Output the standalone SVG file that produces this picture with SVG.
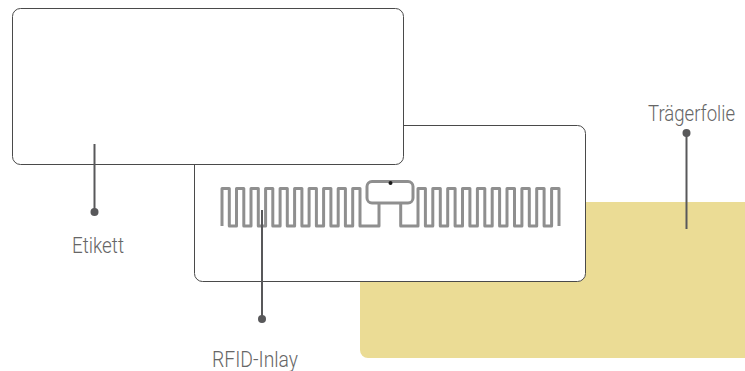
<svg xmlns="http://www.w3.org/2000/svg" width="745" height="371" viewBox="0 0 745 371">
<style>
.card{fill:#fff;stroke:#4a4a4a;stroke-width:1}
.lead{stroke:#58585a;stroke-width:2;fill:none}
.dot{fill:#58585a}
.ant{fill:none;stroke:#8f8f8f;stroke-width:3;stroke-linejoin:round}
text{font-family:"Roboto","Liberation Sans",sans-serif;font-weight:300;font-size:22.500px;fill:#666}
</style>
<rect width="745" height="371" fill="#fff"/>
<g id="traegerfolie"><path d="M745 202H368a8 8 0 0 0-8 8V350a8 8 0 0 0 8 8H745Z" fill="#ebdc95"/></g>
<g id="rfid-inlay">
<rect class="card" x="194.500" y="125.500" width="391" height="156" rx="8"/>
<path class="ant" d="M222 226V188.500H229.300V226H236.500V188.500H243.800V226H251V188.500H258.300V226H265.600V188.500H272.800V226H280.100V188.500H287.300V226H294.600V188.500H301.900V226H309.100V188.500H316.400V226H323.600V188.500H330.900V226H338.200V188.500H345.400V226H352.700V188.500H360V226H379V203"/>
<rect class="ant" x="367" y="181.500" width="46" height="21.500" rx="5"/>
<path class="ant" d="M400.700 203V226H418V188.500H425.400V226H432.800V188.500H440.300V226H447.700V188.500H455.100V226H462.500V188.500H469.900V226H477.400V188.500H484.800V226H492.200V188.500H499.600V226H507V188.500H514.500V226H521.900V188.500H529.300V226H536.700V188.500H544.100V226H551.600V188.500H559V226"/>
</g>
<g id="etikett"><rect class="card" x="12.500" y="8.500" width="391" height="156" rx="8"/></g>
<g id="connectors">
<path class="lead" d="M94.500 144V212"/><circle class="dot" cx="94.500" cy="212" r="4"/>
<path class="lead" d="M262 210V319"/><circle class="dot" cx="262" cy="319" r="4"/>
<path class="lead" d="M686.500 133V229"/><circle class="dot" cx="686.500" cy="133" r="4"/>
<circle cx="390.500" cy="183" r="2" fill="#1a1a1a"/>
</g>
<g id="labels">
<text transform="translate(72 253) scale(.84 1)" textLength="61.900" lengthAdjust="spacingAndGlyphs">Etikett</text>
<text transform="translate(212 367) scale(.84 1)" textLength="102.400" lengthAdjust="spacingAndGlyphs">RFID-Inlay</text>
<text transform="translate(648 120.500) scale(.84 1)" textLength="103.600" lengthAdjust="spacingAndGlyphs">Trägerfolie</text>
</g>
</svg>
